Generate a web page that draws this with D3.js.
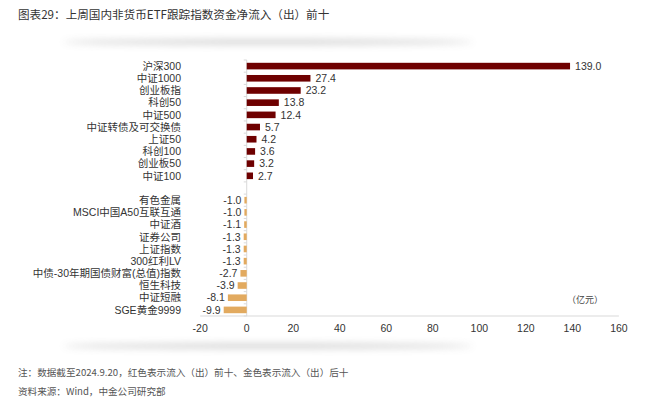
<!DOCTYPE html>
<html>
<head>
<meta charset="utf-8">
<script src="https://cdn.jsdelivr.net/npm/d3@7"></script>
<style>
  body { margin: 0; background: #fff; }
  svg { display: block; font-family: "Liberation Sans", "Noto Sans CJK SC", sans-serif; }
</style>
</head>
<body>
<svg id="chart" width="660" height="404"></svg>
<script>
// data
const topNames = ["沪深300", "中证1000", "创业板指", "科创50", "中证500", "中证转债及可交换债", "上证50", "科创100", "创业板50", "中证100"];
const topValues = [139.0, 27.4, 23.2, 13.8, 12.4, 5.7, 4.2, 3.6, 3.2, 2.7];
const bottomNames = ["有色金属", "MSCI中国A50互联互通", "中证酒", "证券公司", "上证指数", "300红利LV", "中债-30年期国债财富(总值)指数", "恒生科技", "中证短融", "SGE黄金9999"];
const bottomValues = [-1.0, -1.0, -1.1, -1.3, -1.3, -1.3, -2.7, -3.9, -8.1, -9.9];
const xTicks = [-20, 0, 20, 40, 60, 80, 100, 120, 140, 160];

const red = "#6e0000", gold = "#e2aa5f";

const rows = topNames.map((n, i) => ({ name: n, value: topValues[i], color: red }))
  .concat(bottomNames.map((n, i) => ({ name: n, value: bottomValues[i], color: gold })));
const domain = topNames.concat([" "], bottomNames); // blank row between the two groups

const svg = d3.select("#chart");

// soft shadows under the title and under the chart
const defs = svg.append("defs");
defs.append("filter").attr("id", "blur").attr("x", "-20%").attr("y", "-400%").attr("width", "140%").attr("height", "900%")
  .append("feGaussianBlur").attr("stdDeviation", 3.5);
[42, 346].forEach(cy => {
  svg.append("ellipse")
    .attr("cx", 268).attr("cy", cy).attr("rx", 205).attr("ry", 2.5)
    .attr("fill", "#999").attr("opacity", 0.45).attr("filter", "url(#blur)");
});

// title
svg.append("text").attr("x", 18).attr("y", 19)
  .attr("font-family", "Noto Sans CJK SC")
  .attr("font-size", 11.6).attr("fill", "#333")
  .text("图表29：上周国内非货币ETF跟踪指数资金净流入（出）前十");

// scales
const x = d3.scaleLinear().domain([-20, 160]).range([200.2, 618.9]);
const y = d3.scaleBand().domain(domain).range([60, 316]);
const bh = 6.6;
const rowY = d => y(d.name) + y.bandwidth() / 2;

// x axis
svg.append("line")
  .attr("x1", x(-20)).attr("x2", x(160)).attr("y1", 316).attr("y2", 316)
  .attr("stroke", "#d9d9d9").attr("stroke-width", 1);
svg.append("g").selectAll("text").data(xTicks).join("text")
  .attr("x", d => x(d)).attr("y", 332)
  .attr("text-anchor", "middle").attr("font-size", 10.5).attr("fill", "#333")
  .text(d => d);

// y axis with small outside ticks at the band edges
svg.append("line")
  .attr("x1", x(0)).attr("x2", x(0)).attr("y1", 60).attr("y2", 316)
  .attr("stroke", "#d9d9d9");
svg.append("g").selectAll("line").data(domain.concat(["end"])).join("line")
  .attr("x1", x(0) - 3).attr("x2", x(0))
  .attr("y1", (d, i) => 60 + i * y.step()).attr("y2", (d, i) => 60 + i * y.step())
  .attr("stroke", "#d9d9d9");

// bars
svg.append("g").selectAll("rect").data(rows).join("rect")
  .attr("x", d => x(Math.min(0, d.value)))
  .attr("width", d => Math.abs(x(d.value) - x(0)))
  .attr("y", d => rowY(d) - bh / 2)
  .attr("height", bh)
  .attr("fill", d => d.color);

// category labels
svg.append("g").selectAll("text").data(rows).join("text")
  .attr("x", 181).attr("y", d => rowY(d))
  .attr("dy", "0.36em").attr("text-anchor", "end")
  .attr("font-size", 10.5).attr("fill", "#333")
  .text(d => d.name);

// value labels
svg.append("g").selectAll("text").data(rows).join("text")
  .attr("x", d => d.value >= 0 ? x(d.value) + 5 : x(d.value) - 3)
  .attr("y", d => rowY(d))
  .attr("dy", "0.36em")
  .attr("text-anchor", d => d.value >= 0 ? "start" : "end")
  .attr("font-size", 10.5).attr("fill", "#333")
  .text(d => d.value.toFixed(1));

// unit
svg.append("text").attr("x", 567).attr("y", 303)
  .attr("font-family", "Noto Sans CJK SC")
  .attr("font-size", 9).attr("fill", "#444").text("（亿元）");

// notes
svg.append("text").attr("x", 18).attr("y", 376)
  .attr("font-family", "Noto Sans CJK SC")
  .attr("font-size", 9.6).attr("fill", "#555")
  .text("注：数据截至2024.9.20，红色表示流入（出）前十、金色表示流入（出）后十");
svg.append("text").attr("x", 18).attr("y", 395)
  .attr("font-family", "Noto Sans CJK SC")
  .attr("font-size", 9.6).attr("fill", "#555")
  .text("资料来源：Wind，中金公司研究部");
</script>
</body>
</html>
